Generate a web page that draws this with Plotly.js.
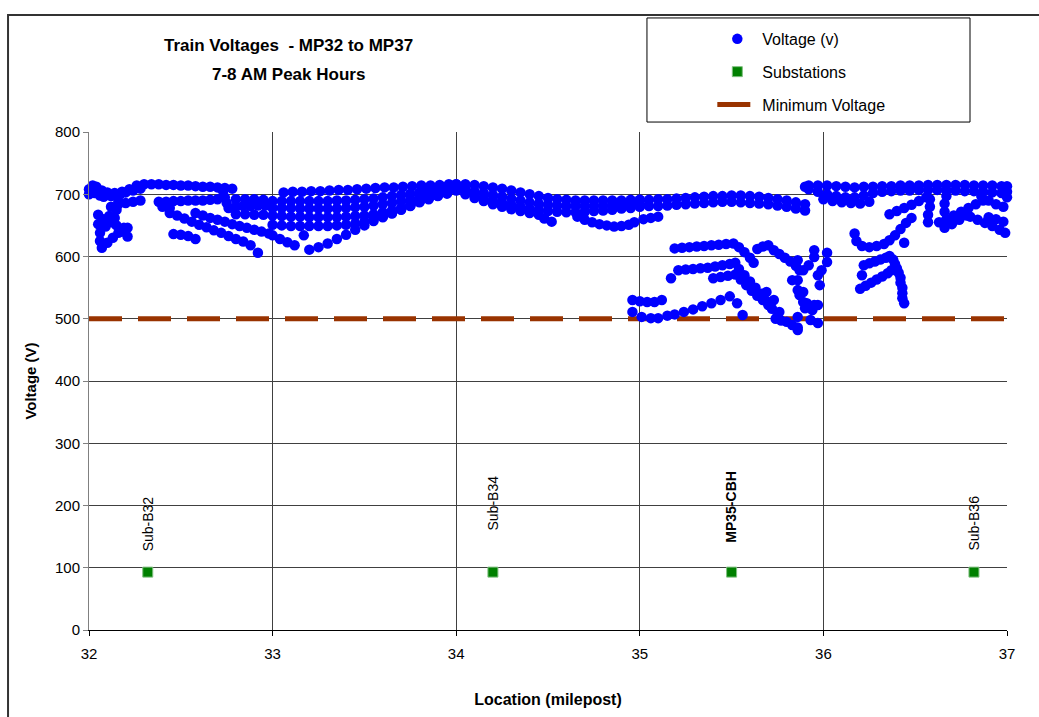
<!DOCTYPE html>
<html>
<head>
<meta charset="utf-8">
<script src="https://cdn.plot.ly/plotly-3.0.1.min.js"></script>
<style>html,body{margin:0;padding:0;background:#fff;}#chart{width:1039px;height:717px;}</style>
</head>
<body>
<div id="chart"></div>
<script>
// ---------- Train voltage readings (milepost, volts) ----------
const segA_x = [32.00,32.02,32.04,32.07,32.10,32.14,32.18,32.22,32.26,32.30,32.34,32.38,32.42,32.46,32.50,32.54,32.58,32.62,32.66,32.70,32.74,32.78];
const segA_y = [708,714,712,706,703,702,704,708,714,716,716,716,715,715,714,714,713,712,712,711,710,709];
const segB_x = [32.00,32.03,32.06,32.08,32.12,32.16,32.20,32.24,32.28];
const segB_y = [700,702,698,696,697,700,703,706,709];
const segC_x = [32.12,32.16,32.20,32.24,32.28,32.38,32.42,32.46,32.50,32.54,32.58,32.62,32.66,32.70,32.40,32.44];
const segC_y = [680,684,686,688,690,688,688,689,689,690,690,690,691,692,680,678];
const segD_x = [32.05,32.05,32.06,32.06,32.07,32.10,32.13,32.16,32.19,32.21,32.09,32.12,32.15,32.18,32.21,32.08,32.11,32.14,32.15,32.16,32.17];
const segD_y = [667,652,638,625,614,622,630,638,646,632,648,655,650,640,646,660,665,662,675,688,700];
const segE1_x = [32.44,32.48,32.52,32.56,32.60,32.64,32.68,32.72,32.76,32.80,32.84,32.88,32.92];
const segE1_y = [670,666,661,656,651,647,642,638,633,628,624,618,606];
const segE2_x = [32.58,32.62,32.66,32.70,32.74,32.78,32.82,32.86,32.90,32.94,32.98];
const segE2_y = [670,666,662,659,656,652,649,646,643,640,637];
const segE3_x = [32.46,32.50,32.54,32.58];
const segE3_y = [636,635,633,628];
const segE4_x = [32.73,32.74,32.75,32.76,32.80,32.84,32.88,32.92,32.96,32.80,32.85,32.90,32.95,32.80,32.85,32.90,32.95];
const segE4_y = [705,695,686,678,680,681,681,682,682,668,668,667,667,692,692,692,691];

const R1_x = [33.06,33.11,33.16,33.21,33.26,33.31,33.36,33.41,33.46,33.51,33.56,33.61,33.66,33.71,33.76,33.81,33.86,33.91,33.96,34.00];
const R1_y = [703,704,704,705,705,706,707,707,708,709,710,711,711,712,713,714,714,715,716,716];
const row33_x = [33.00,33.05,33.10,33.15,33.20,33.25,33.30,33.35,33.40,33.45,33.50,33.55,33.60,33.65,33.70,33.75,33.80,33.85,33.90,33.95];
const R2_y = [689,689,689,689,689,689,689,690,690,691,692,693,695,697,699,701,703,706,708,711];
const R3_y = [678,678,678,677,677,677,677,677,678,679,680,682,684,686,689,692,695,699,703,707];
const R4_y = [666,665,664,664,663,663,663,663,664,665,666,668,671,674,678,683,688,693,698,703];
const R5_y = [651,650,649,649,649,649,649,650,651,653,656,660,664,669,675,681,687,692,697,701];
const B6_x = [33.00,33.04,33.08,33.12,33.17,33.20,33.25,33.30,33.35,33.40,33.45,33.50,33.55,33.60,33.65,33.70,33.75,33.80,33.85,33.90,33.95];
const B6_y = [634,628,623,618,634,611,615,621,628,635,643,650,657,663,670,676,682,688,694,699,704];

const row34_x = [34.00,34.05,34.10,34.15,34.20,34.25,34.30,34.35,34.40,34.45,34.50,34.55,34.60,34.65,34.70,34.75,34.80,34.85,34.90,34.95,35.00];
const M1_y = [716,716,715,713,711,709,706,703,700,697,694,692,691,690,690,690,690,690,690,691,691];
const M2_y = [710,708,705,702,699,696,693,690,687,685,683,682,681,681,681,681,682,682,683,684,685];
const M3_y = [706,702,698,694,690,686,683,680,677,675,673,672,671,671,672,673,674,675,677,678,680];
const M4_x = [34.05,34.10,34.15,34.20,34.25,34.30,34.35,34.40,34.45,34.48,34.52];
const M4_y = [700,694,689,684,680,676,673,670,667,661,656];
const M5_x = [34.66,34.70,34.74,34.78,34.82,34.86,34.90,34.94,34.97,35.02,35.06,35.10];
const M5_y = [664,659,655,652,650,648,649,651,655,660,662,664];

const rowT_x = [35.00,35.05,35.10,35.15,35.20,35.25,35.30,35.35,35.40,35.45,35.50,35.55,35.60,35.65,35.70,35.75,35.80,35.85,35.90];
const T1_y = [691,691,692,692,693,694,695,696,697,697,698,698,697,696,694,692,690,687,684];
const T2_y = [681,681,681,682,683,684,685,686,687,688,688,687,686,685,684,682,680,677,674];

const rowU_x = [35.92,35.97,36.02,36.07,36.12,36.17,36.22,36.27,36.32,36.37,36.42,36.47,36.52,36.57,36.62,36.67,36.72,36.77,36.82,36.87,36.92,36.97];
const U1_y = [714,714,714,713,712,711,712,712,713,713,714,714,714,715,715,715,715,715,714,714,714,713];
const U2_y = [708,704,700,697,695,695,698,702,704,705,706,706,707,707,707,706,706,705,705,704,703,702];
const U3_x = [36.00,36.05,36.10,36.15,36.20,36.25,35.90,37.00,37.00,37.00];
const U3_y = [692,689,687,686,685,688,712,713,704,695];

const F1_x = [36.36,36.40,36.44,36.48,36.52,36.56];
const F1_y = [668,673,678,683,689,695];
const F2_x = [36.57,36.57,36.58,36.58];
const F2_y = [655,667,680,692];
const F3_x = [36.63,36.67,36.71,36.75,36.79,36.83,36.87];
const F3_y = [655,660,666,672,678,684,690];
const F4_x = [36.66,36.70,36.74,36.78];
const F4_y = [646,652,659,666];
const F5_x = [36.76,36.80,36.84,36.88,36.92,36.96,36.99];
const F5_y = [668,664,659,654,649,643,638];
const F6_x = [36.90,36.94,36.98,36.66,36.66,36.67];
const F6_y = [663,660,656,672,685,697];
const F8_x = [36.86,36.90,36.94,36.98];
const F8_y = [697,690,684,680];

const G1_x = [36.17,36.18,36.21,36.25,36.29,36.33,36.36,36.39,36.42,36.45,36.48,36.44];
const G1_y = [637,625,617,615,617,620,626,634,644,654,662,622];
const H1_x = [36.22,36.25,36.28,36.31,36.34,36.36,36.21];
const H1_y = [586,589,592,595,598,601,570];
const H2_x = [36.38,36.39,36.40,36.41,36.42,36.42,36.43,36.43,36.43,36.44];
const H2_y = [595,588,581,574,566,558,550,541,533,525];
const H3_x = [36.20,36.23,36.26,36.29,36.32,36.35,36.37];
const H3_y = [548,553,558,563,568,573,578];

const Z_x = [35.95,35.95,36.02,36.02,35.99,35.98,35.97,35.86,35.89,35.92,35.86,35.89,35.91,35.95,35.86,35.93,35.97,35.86];
const Z_y = [610,599,606,591,578,554,570,594,578,586,562,543,525,522,503,498,493,482];

const K1_x = [35.19,35.23,35.27,35.31,35.35,35.39,35.43,35.47,35.51,35.54,35.57,35.60,35.62];
const K1_y = [613,614,615,616,617,618,619,620,621,615,607,598,590];
const K2_x = [35.64,35.67,35.70,35.73,35.76,35.79,35.82,35.85,35.87];
const K2_y = [612,616,618,610,604,598,592,585,578];
const K3_x = [35.21,35.25,35.29,35.33,35.37,35.41,35.45,35.49,35.52,35.54,35.57,35.60,35.63,35.66,35.69,35.72,35.75];
const K3_y = [578,579,580,581,582,584,586,588,590,580,570,560,550,540,528,516,504];
const K5_x = [35.17,35.40,35.44,35.48,35.52,35.55,35.58,35.61,35.64,35.67,35.70];
const K5_y = [565,565,567,569,571,563,554,545,537,530,522];
const K6_x = [34.96,35.00,35.04,35.08,35.12];
const K6_y = [530,528,527,527,530];
const K7_x = [34.96,35.01,35.06,35.10,35.15,35.19,35.24,35.29,35.34,35.39,35.44,35.49,35.53,35.56];
const K7_y = [511,503,501,501,505,507,511,515,520,525,530,536,525,506];
const K9_x = [35.74,35.77,35.80,35.83,35.86,35.69,35.73,35.76];
const K9_y = [500,497,495,490,486,543,530,511];
const K10_x = [35.83,35.86,35.87,35.89,35.90,35.94,35.97];
const K10_y = [562,546,538,527,517,514,522];

// ---------- Substations ----------
const subX = [32.32, 34.20, 35.50, 36.82];
const subY = [93, 93, 93, 93];
const subLabels = ['Sub-B32', 'Sub-B34', '<b>MP35-CBH</b>', 'Sub-B36'];

// ---------- Minimum voltage ----------
const minX = [32, 37];
const minY = [500, 500];

const voltX = [].concat(segA_x, segB_x, segC_x, segD_x, segE1_x, segE2_x, segE3_x, segE4_x,
  R1_x, row33_x, row33_x, row33_x, row33_x, B6_x,
  row34_x, row34_x, row34_x, M4_x, M5_x,
  rowT_x, rowT_x, rowU_x, rowU_x, U3_x,
  F1_x, F2_x, F3_x, F4_x, F5_x, F6_x, F8_x, G1_x, H1_x, H2_x, H3_x, Z_x,
  K1_x, K2_x, K3_x, K5_x, K6_x, K7_x, K9_x, K10_x);
const voltY = [].concat(segA_y, segB_y, segC_y, segD_y, segE1_y, segE2_y, segE3_y, segE4_y,
  R1_y, R2_y, R3_y, R4_y, R5_y, B6_y,
  M1_y, M2_y, M3_y, M4_y, M5_y,
  T1_y, T2_y, U1_y, U2_y, U3_y,
  F1_y, F2_y, F3_y, F4_y, F5_y, F6_y, F8_y, G1_y, H1_y, H2_y, H3_y, Z_y,
  K1_y, K2_y, K3_y, K5_y, K6_y, K7_y, K9_y, K10_y);

const FONT = 'Liberation Sans, Arial, sans-serif';

const traces = [
  {
    x: minX, y: minY, type: 'scatter', mode: 'lines', name: 'Minimum Voltage',
    line: {color: '#993300', width: 5, dash: '33px,16px'},
    legendrank: 3, legendgroup: 'g3', hoverinfo: 'skip'
  },
  {
    x: voltX, y: voltY, type: 'scatter', mode: 'markers', name: 'Voltage (v)',
    marker: {color: '#0000ff', size: 10.5, symbol: 'circle'},
    cliponaxis: false, legendrank: 1, legendgroup: 'g1', hoverinfo: 'skip'
  },
  {
    x: subX, y: subY, type: 'scatter', mode: 'markers', name: 'Substations',
    marker: {color: '#008000', size: 10, symbol: 'square', line: {color: '#80c080', width: 1}},
    legendrank: 2, legendgroup: 'g2', hoverinfo: 'skip'
  }
];

const labelShift = [14, 35, 22, 15];
const annotations = subLabels.map((t, i) => ({
  x: subX[i], y: subY[i], xref: 'x', yref: 'y', text: t, textangle: -90,
  showarrow: false, xanchor: 'center', yanchor: 'bottom', yshift: 5 + labelShift[i],
  font: {family: FONT, size: 14, color: '#000'}
}));
annotations.push({
  xref: 'paper', yref: 'paper', x: 0.2168, y: 1.1727, xanchor: 'center', yanchor: 'middle',
  text: '<b>Train Voltages  - MP32 to MP37</b>', showarrow: false,
  font: {family: FONT, size: 17, color: '#000'}
});
annotations.push({
  xref: 'paper', yref: 'paper', x: 0.2168, y: 1.1145, xanchor: 'center', yanchor: 'middle',
  text: '<b>7-8 AM Peak Hours</b>', showarrow: false,
  font: {family: FONT, size: 17, color: '#000'}
});

const layout = {
  width: 1039, height: 717,
  margin: {l: 89, r: 32, t: 132, b: 87},
  paper_bgcolor: '#fff', plot_bgcolor: '#fff',
  font: {family: FONT, color: '#000'},
  showlegend: true,
  hovermode: false,
  xaxis: {
    range: [32, 37], tick0: 32, dtick: 1, showgrid: true, gridcolor: '#404040', gridwidth: 1,
    showline: true, linecolor: '#000', linewidth: 1, ticks: 'outside', ticklen: 5, tickcolor: '#000',
    zeroline: false, tickfont: {family: FONT, size: 15, color: '#000'}, automargin: false,
    ticklabelstandoff: 5,
    title: {text: '<b>Location (milepost)</b>', font: {family: FONT, size: 16, color: '#000'}, standoff: 32}
  },
  yaxis: {
    range: [0, 800], tick0: 0, dtick: 100, showgrid: true, gridcolor: '#404040', gridwidth: 1,
    showline: true, linecolor: '#808080', linewidth: 1, ticks: 'outside', ticklen: 5, tickcolor: '#808080',
    zeroline: false, tickfont: {family: FONT, size: 15, color: '#000'}, automargin: false,
    title: {text: '<b>Voltage (V)</b>', font: {family: FONT, size: 15, color: '#000'}, standoff: 14}
  },
  legend: {
    x: 0.679, y: 1.221, xanchor: 'left', yanchor: 'top', bgcolor: 'rgba(0,0,0,0)', borderwidth: 0,
    font: {family: FONT, size: 16, color: '#000'}, itemwidth: 40, tracegroupgap: 9, traceorder: 'grouped'
  },
  shapes: [
    {type: 'rect', xref: 'paper', yref: 'paper', x0: 0.6078, x1: 0.9597, y0: 1.020, y1: 1.229,
     line: {color: '#000', width: 1}, fillcolor: 'rgba(0,0,0,0)', layer: 'above'},
    {type: 'rect', xref: 'paper', yref: 'paper', x0: -0.0882, x1: 1.06, y0: -0.3, y1: 1.235,
     line: {color: '#333', width: 2}, fillcolor: 'rgba(0,0,0,0)', layer: 'below'}
  ],
  annotations: annotations
};

Plotly.newPlot('chart', traces, layout, {displayModeBar: false, staticPlot: true});
</script>
</body>
</html>
